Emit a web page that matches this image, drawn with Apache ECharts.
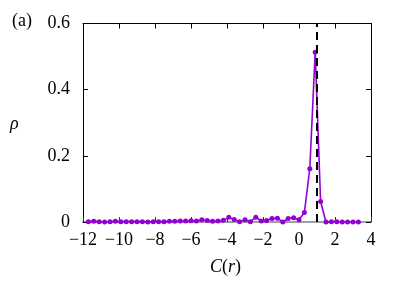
<!DOCTYPE html>
<html>
<head>
<meta charset="utf-8">
<script src="https://cdn.jsdelivr.net/npm/echarts@6/dist/echarts.min.js"></script>
<style>html,body{margin:0;padding:0;background:#fff;}#c{width:407px;height:285px;}</style>
</head>
<body>
<div id="c"></div>
<script>
const xValues = [-11.7,-11.4,-11.1,-10.8,-10.5,-10.2,-9.9,-9.6,-9.3,-9.0,-8.7,-8.4,-8.1,-7.8,-7.5,-7.2,-6.9,-6.6,-6.3,-6.0,-5.7,-5.4,-5.1,-4.8,-4.5,-4.2,-3.9,-3.6,-3.3,-3.0,-2.7,-2.4,-2.1,-1.8,-1.5,-1.2,-0.9,-0.6,-0.3,0.0,0.3,0.6,0.9,1.2,1.5,1.8,2.1,2.4,2.7,3.0,3.3];
const rhoValues = [0.001,0.002,0.001,0.000,0.001,0.002,0.001,0.001,0.001,0.001,0.001,0.000,0.001,0.001,0.001,0.002,0.002,0.003,0.003,0.004,0.003,0.0065,0.0045,0.0025,0.003,0.005,0.014,0.0075,0.001,0.007,0.001,0.0145,0.003,0.0045,0.0105,0.0115,0.000,0.0105,0.0125,0.007,0.029,0.161,0.513,0.062,0.000,0.001,0.001,0.000,0.000,0.000,0.000];
const markerX = 1;
const xTicks = {min: -12, max: 4, interval: 2};
const yTicks = {min: 0, max: 0.6, interval: 0.2};

const chart = echarts.init(document.getElementById('c'), null, {renderer: 'canvas'});
const font = 'Liberation Serif';
const data = xValues.map((x, i) => [x, rhoValues[i]]);
const fmtX = v => (v < 0 ? '\u2212' + Math.abs(v) : String(v));
const fmtY = v => (v === 0 ? '0' : String(+v.toFixed(1)));

chart.setOption({
  animation: false,
  backgroundColor: '#fff',
  grid: {left: 83, right: 36, top: 23.5, bottom: 63},
  xAxis: [{
    type: 'value', min: xTicks.min, max: xTicks.max, interval: xTicks.interval,
    axisLine: {onZero: false, lineStyle: {color: '#a0a0a0', width: 2}},
    axisTick: {inside: true, length: 5, lineStyle: {color: '#333'}},
    axisLabel: {formatter: fmtX, color: '#000', fontFamily: font, fontSize: 18, margin: 9},
    splitLine: {show: false}
  }, {
    type: 'value', position: 'top', min: xTicks.min, max: xTicks.max, interval: xTicks.interval,
    axisLine: {show: true, onZero: false, lineStyle: {color: '#000', width: 1}},
    axisTick: {inside: true, length: 5, lineStyle: {color: '#000'}},
    axisLabel: {show: false}, splitLine: {show: false}
  }],
  yAxis: [{
    type: 'value', position: 'left', min: yTicks.min, max: yTicks.max, interval: yTicks.interval,
    axisLine: {show: true, onZero: false, lineStyle: {color: '#000', width: 1}},
    axisTick: {show: true, inside: true, length: 5, lineStyle: {color: '#000'}},
    axisLabel: {formatter: fmtY, color: '#000', fontFamily: font, fontSize: 18, margin: 13},
    splitLine: {show: false}
  }, {
    type: 'value', position: 'right', min: yTicks.min, max: yTicks.max, interval: yTicks.interval,
    axisLine: {show: true, onZero: false, lineStyle: {color: '#000', width: 1}},
    axisTick: {show: true, inside: true, length: 5, lineStyle: {color: '#000'}},
    axisLabel: {show: false}, splitLine: {show: false}
  }],
  series: [{
    type: 'line', data: data, clip: false,
    symbol: 'circle', symbolSize: 5,
    itemStyle: {color: '#9400d3'},
    lineStyle: {color: '#9400d3', width: 1.6},
    markLine: {
      silent: true, symbol: ['none', 'none'], label: {show: false},
      lineStyle: {color: '#000', type: [8, 5], width: 2},
      data: [{xAxis: markerX}]
    },
    z: 3
  }],
  graphic: [
    {type: 'text', left: 12, top: 12, style: {text: '(a)', font: '18px ' + font, fill: '#000'}},
    {type: 'text', left: 10, top: 115, style: {text: '\u03c1', font: 'italic 18px ' + font, fill: '#000'}},
    {type: 'text', left: 210, top: 258, style: {
      text: '{i|C}({i|r})',
      rich: {i: {fontStyle: 'italic', fontFamily: font, fontSize: 18}},
      font: '18px ' + font, fill: '#000'}}
  ]
});
</script>
</body>
</html>
